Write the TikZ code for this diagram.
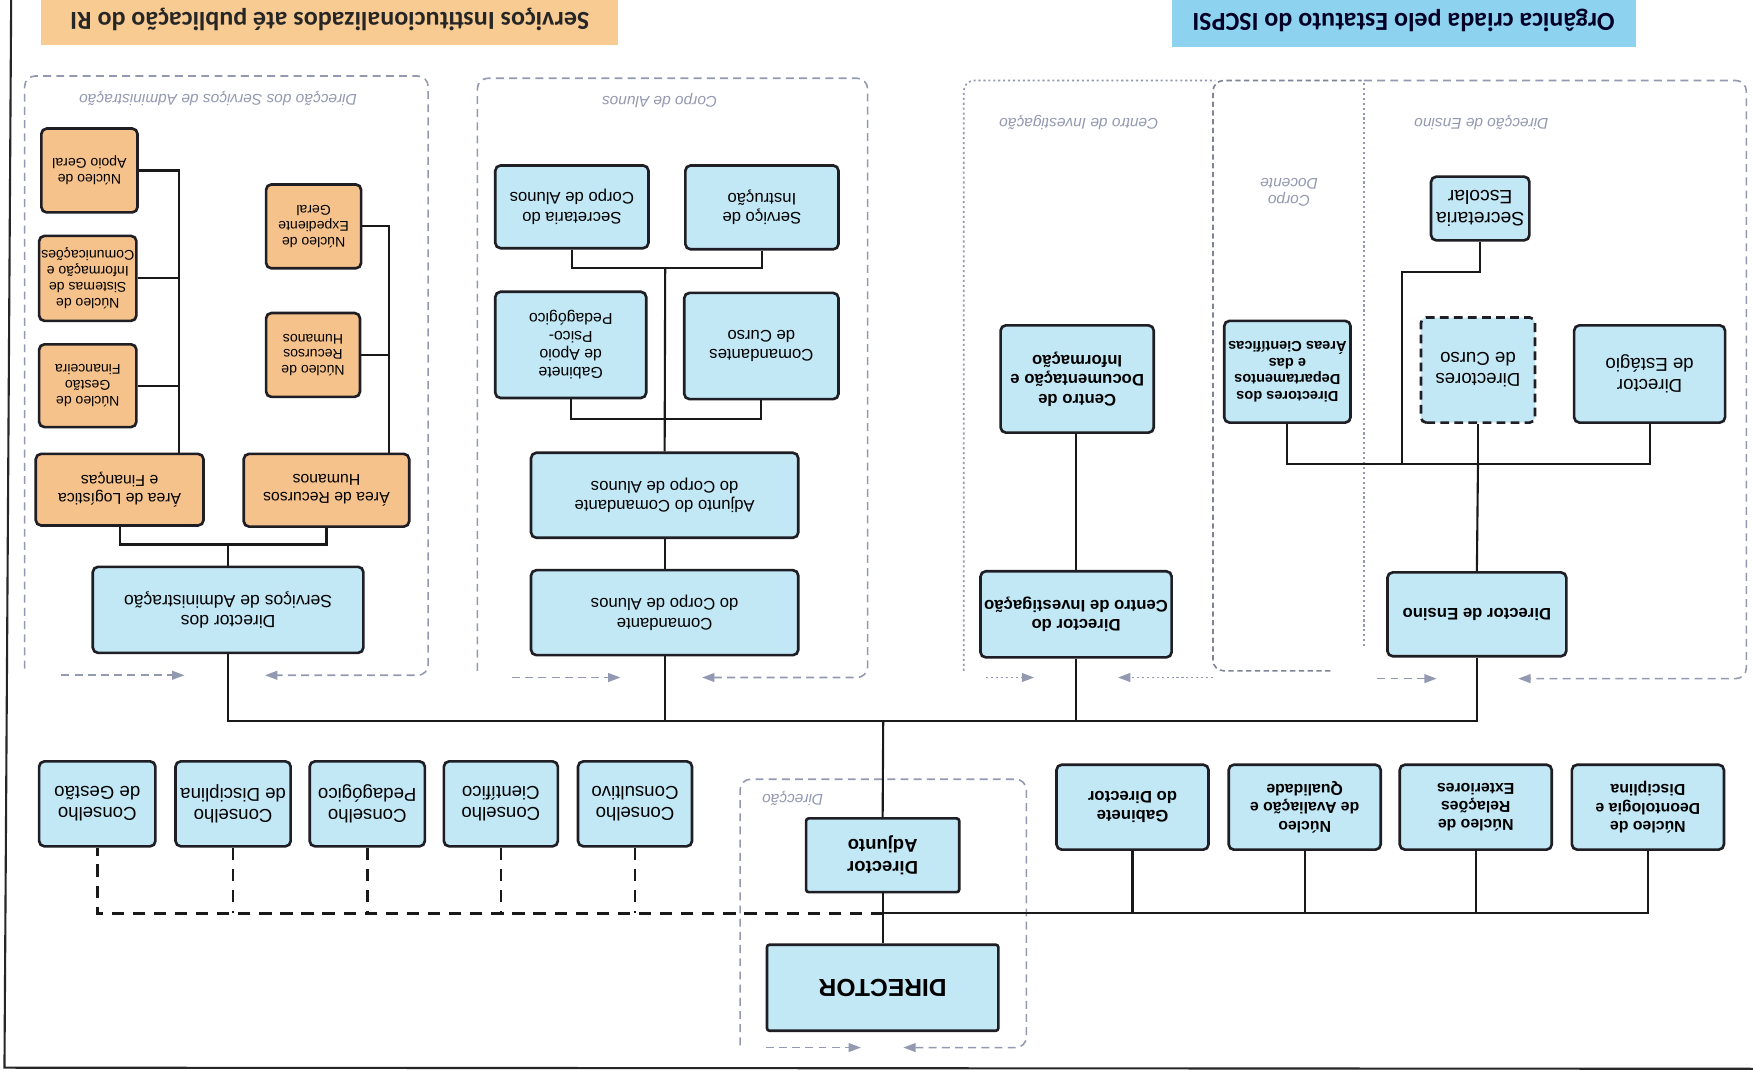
\documentclass[tikz,border=0pt]{standalone}
\usepackage{fontspec}
\setsansfont{Liberation Sans}
\newfontfamily\calib{Carlito}
\usetikzlibrary{arrows.meta}
\definecolor{bluefill}{HTML}{C2E7F5}
\definecolor{bannerblue}{HTML}{8DD2EE}
\definecolor{orangefill}{HTML}{F6C28C}
\definecolor{bannerorange}{HTML}{F8CB93}
\definecolor{grpcol}{HTML}{9499B2}
\definecolor{grpdark}{HTML}{7E8399}
\definecolor{nodeborder}{HTML}{1E1E24}
\newcommand\ubox[7]{\node[#2, minimum width={(#5-#3)*0.02236cm}, minimum height={(#6-#4)*0.02236cm}] (#1) at ({-(#3+#5)/2},{(#4+#6)/2}) {#7};}
\tikzset{
  nd/.style={draw=nodeborder, line width=1.5pt, rounded corners=3pt, fill=bluefill, align=center, inner sep=1pt, text=black, font=\sffamily\fontsize{9.5}{11}\selectfont},
  ndb/.style={nd, font=\sffamily\bfseries\fontsize{9.5}{11}\selectfont},
  ndl/.style={nd, font=\sffamily\fontsize{10.6}{12}\selectfont},
  ndo/.style={nd, fill=orangefill, font=\sffamily\fontsize{9}{10.5}\selectfont},
  ndos/.style={nd, fill=orangefill, font=\sffamily\fontsize{8}{9}\selectfont},
  bann/.style={draw=none, inner sep=0pt, align=center, font=\calib\bfseries\fontsize{14.8}{16}\selectfont},
  conn/.style={line width=1.2pt, draw=black!90},
  dconn/.style={line width=1.5pt, draw=black!90, dash pattern=on 7pt off 5pt},
  grp/.style={draw=grpcol, line width=0.9pt, dash pattern=on 4.5pt off 3pt, rounded corners=6pt},
  grpdot/.style={draw=grpcol, line width=0.9pt, dash pattern=on 1.2pt off 1.6pt, rounded corners=6pt},
  garrow/.style={-{Triangle[length=7pt,width=5pt]}},
  glabel/.style={font=\sffamily\itshape\fontsize{8.8}{10}\selectfont, text=grpcol, align=center, inner sep=0pt},
}
\begin{document}
\begin{tikzpicture}[x=0.02236cm, y=0.02236cm]
\useasboundingbox (0,0) rectangle (1568,-966);
\fill[white] (0,0) rectangle (1568,-966);
% page frame
\draw[line width=1.2pt, black!85] (10,0) -- (4,-955) -- (1568,-956);
\begin{scope}[rotate=180, transform shape]
% banners
\ubox{banO}{bann, fill=bannerorange, text=black!85}{37}{-5}{553}{40}{Serviços Institucionalizados até publicação do RI}
\ubox{banB}{bann, fill=bannerblue, text=black!85!blue}{1048}{-5}{1463}{42}{Orgânica criada pelo Estatuto do ISCPSI}

% group frames
\draw[grp, garrow] (-22,598) -- (-22,68) -- (-383,68) -- (-383,604) -- (-237,604);
\draw[grp, garrow] (-55,604) -- (-165,604);
\draw[grp, garrow] (-427,600) -- (-427,70) -- (-776,70) -- (-776,606) -- (-628,606);
\draw[grp, garrow] (-458,606) -- (-555,606);
\draw[grpdot] (-862,600) -- (-862,72) -- (-1087,72);
\draw[grpdot, garrow] (-882,606) -- (-925,606);
\draw[grpdot, garrow] (-1085,606) -- (-1000,606);
\draw[grp, draw=grpdark, dash pattern=on 3pt off 2pt] (-1190,600) -- (-1085,600) -- (-1085,72) -- (-1218,72);
\draw[grpdot] (-1220,578) -- (-1220,72);
\draw[grp, garrow] (-1220,72) -- (-1562,72) -- (-1562,607) -- (-1358,607);
\draw[grp, garrow] (-1232,607) -- (-1285,607);
\draw[grp, garrow] (-662,935) -- (-662,697) -- (-918,697) -- (-918,937) -- (-808,937);
\draw[grp, garrow] (-685,937) -- (-770,937);

% group labels
\node[glabel] (glAdm) at (-195,88) {Direcção dos Serviços de Administração};
\node[glabel] (glCA) at (-590,90) {Corpo de Alunos};
\node[glabel] (glCI) at (-965,110) {Centro de Investigação};
\node[glabel] (glCD) at (-1153,172) {Corpo\\Docente};
\node[glabel] (glDE) at (-1325,110) {Direcção de Ensino};
\node[glabel] (glDir) at (-709,714) {Direcção};

% direction
\ubox{director}{ndb, rounded corners=1.5pt, font=\sffamily\bfseries\fontsize{14}{16}\selectfont}{686}{845}{893}{922}{DIRECTOR}
\ubox{adjunto}{ndb, rounded corners=1.5pt, font=\sffamily\bfseries\fontsize{10.5}{12}\selectfont}{721}{732}{858}{798}{Director\\Adjunto}

% councils
\ubox{cConsult}{ndl}{517}{681}{619}{757}{Conselho\\Consultivo}
\ubox{cCient}{ndl}{397}{681}{499}{757}{Conselho\\Científico}
\ubox{cPedag}{ndl}{277}{681}{380}{757}{Conselho\\Pedagógico}
\ubox{cDisc}{ndl}{157}{681}{260}{757}{Conselho\\de Disciplina}
\ubox{cGest}{ndl}{35}{681}{139}{757}{Conselho\\de Gestão}

% staff units
\ubox{nGab}{ndb}{945}{684}{1081}{760}{Gabinete\\do Director}
\ubox{nAval}{ndb, font=\sffamily\bfseries\fontsize{9}{10.5}\selectfont}{1099}{684}{1235}{760}{Núcleo\\de Avaliação e\\Qualidade}
\ubox{nRel}{ndb, font=\sffamily\bfseries\fontsize{9}{10.5}\selectfont}{1252}{684}{1388}{760}{Núcleo de\\Relações\\Exteriores}
\ubox{nDeont}{ndb, font=\sffamily\bfseries\fontsize{9}{10.5}\selectfont}{1406}{684}{1542}{760}{Núcleo de\\Deontologia e\\Disciplina}

% administration services
\ubox{dirAdm}{nd, font=\sffamily\fontsize{10}{11.5}\selectfont}{83}{507}{325}{584}{Director dos\\Serviços de Administração}
\ubox{areaLog}{ndo}{32}{406}{182}{470}{Área de Logística\\e Finanças}
\ubox{areaRH}{ndo}{218}{406}{366}{471}{Área de Recursos\\Humanos}
\ubox{nGestFin}{ndos}{35}{308}{122}{382}{Núcleo de\\Gestão\\Financeira}
\ubox{nSist}{ndos}{35}{211}{122}{287}{Núcleo de\\Sistemas de\\Informação e\\Comunicações}
\ubox{nApoio}{ndos}{37}{115}{123}{190}{Núcleo de\\Apoio Geral}
\ubox{nRH}{ndos}{238}{280}{322}{355}{Núcleo de\\Recursos\\Humanos}
\ubox{nExped}{ndos}{238}{165}{323}{240}{Núcleo de\\Expediente\\Geral}

% student corps
\ubox{comand}{nd}{475}{510}{714}{586}{Comandante\\do Corpo de Alunos}
\ubox{adjCom}{nd}{475}{405}{714}{481}{Adjunto do Comandante\\do Corpo de Alunos}
\ubox{gabPsico}{nd, font=\sffamily\fontsize{9}{10.3}\selectfont}{443}{261}{578}{356}{Gabinete\\de Apoio\\Psico-\\Pedagógico}
\ubox{comCurso}{nd}{612}{262}{750}{357}{Comandantes\\de Curso}
\ubox{secCA}{nd}{443}{148}{580}{222}{Secretaria do\\Corpo de Alunos}
\ubox{servInst}{nd}{613}{148}{750}{223}{Serviço de\\Instrução}

% research
\ubox{dirCI}{ndb}{877}{511}{1048}{588}{Director do\\Centro de Investigação}
\ubox{centroDoc}{ndb}{895}{291}{1032}{387}{Centro de\\Documentação e\\Informação}

% teaching
\ubox{dirEns}{ndb}{1241}{512}{1401}{587}{Director de Ensino}
\ubox{dirDep}{ndb, font=\sffamily\bfseries\fontsize{8.3}{9.5}\selectfont}{1095}{287}{1208}{378}{Directores dos\\Departamentos\\e das\\Áreas Científicas}
\ubox{dirCurso}{ndl, dash pattern=on 5pt off 3pt}{1271}{284}{1373}{378}{Directores\\de Curso}
\ubox{dirEst}{ndl}{1408}{291}{1543}{378}{Director\\de Estágio}
\ubox{secEsc}{nd, font=\sffamily\fontsize{11}{12.5}\selectfont}{1280}{158}{1368}{215}{Secretaria\\Escolar}

% connectors
\coordinate (busTop) at (-790,645);
\coordinate (busAdv) at (-790,817);
\draw[conn] (director.south) -- (adjunto.north);
\draw[conn] (adjunto.south) -- (busTop);
\draw[conn] (dirAdm.north) |- (busTop) -| (dirEns.north);
\draw[conn] (comand.north) -- (comand.north |- busTop);
\draw[conn] (dirCI.north) -- (dirCI.north |- busTop);

\draw[conn] (busAdv) -| (nDeont.north);
\foreach \n in {nGab,nAval,nRel} \draw[conn] (\n.north) -- (\n.north |- busAdv);
\draw[dconn] (busAdv) -| (cGest.north);
\foreach \n in {cConsult,cCient,cPedag,cDisc} \draw[dconn] (\n.north) -- (\n.north |- busAdv);

\coordinate (admBus) at (-204,487);
\coordinate (stemL) at (-160,0);
\coordinate (stemR) at (-348,0);
\draw[conn] (dirAdm.south) -- (admBus);
\draw[conn] (areaLog.north) |- (admBus) -| (areaRH.north);
\draw[conn] (areaLog.south -| stemL) |- (nApoio.west);
\draw[conn] (nSist.west) -- (nSist.west -| stemL);
\draw[conn] (nGestFin.west) -- (nGestFin.west -| stemL);
\draw[conn] (areaRH.south -| stemR) |- (nExped.west);
\draw[conn] (nRH.west) -- (nRH.west -| stemR);

\coordinate (caBus1) at (-595,375);
\coordinate (caBus2) at (-595,240);
\draw[conn] (comand.south) -- (adjCom.north);
\draw[conn] (adjCom.south) -- (caBus2);
\draw[conn] (gabPsico.north) |- (caBus1) -| (comCurso.north);
\draw[conn] (secCA.north) |- (caBus2) -| (servInst.north);

\draw[conn] (dirCI.south) -- (dirCI.south |- centroDoc.north);

\coordinate (ensBus) at (-1322,415);
\coordinate (secJog) at (-1254,243);
\draw[conn] (dirEns.south) -- (ensBus);
\draw[conn] (dirDep.north) |- (ensBus) -| (dirEst.north);
\draw[conn] (dirCurso.north) -- (dirCurso.north |- ensBus);
\draw[conn] (secJog |- ensBus) -- (secJog) -| (secEsc.north);
\end{scope}
\end{tikzpicture}
\end{document}
